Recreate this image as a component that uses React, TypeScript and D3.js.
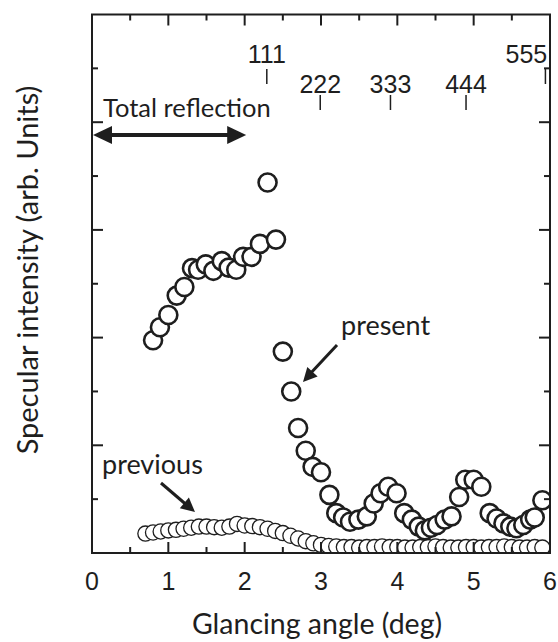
import React from "react";
import * as d3 from "d3";

// present measurement (large open circles)
const presentAngle = [
  0.8, 0.89, 1.0, 1.11, 1.21, 1.31, 1.39, 1.49, 1.59, 1.7, 1.79, 1.89, 1.98, 2.09, 2.2, 2.3, 2.41,
  2.5, 2.61, 2.7, 2.8, 2.89, 3.0, 3.11, 3.2, 3.29, 3.38, 3.49, 3.6, 3.69, 3.78, 3.88, 3.99,
  4.09, 4.19, 4.28, 4.36, 4.44, 4.52, 4.62, 4.71, 4.81, 4.89, 5.0, 5.1, 5.21, 5.3, 5.39, 5.48,
  5.56, 5.65, 5.74, 5.8, 5.9,
];
const presentIntensity = [
  1.975, 2.096, 2.21, 2.39, 2.47, 2.645, 2.63, 2.68, 2.62, 2.71, 2.65, 2.63, 2.75, 2.75, 2.87, 3.44, 2.91,
  1.87, 1.5, 1.16, 0.95, 0.8, 0.75, 0.54, 0.37, 0.33, 0.29, 0.31, 0.34, 0.46, 0.555, 0.615, 0.555,
  0.37, 0.31, 0.245, 0.21, 0.235, 0.26, 0.31, 0.34, 0.52, 0.68, 0.68, 0.615, 0.37, 0.32, 0.275, 0.245,
  0.23, 0.26, 0.31, 0.33, 0.49,
];

// previous measurement (small open circles)
const previousAngle = [
  0.7, 0.8, 0.9, 1.0, 1.1, 1.2, 1.3, 1.4, 1.5, 1.6, 1.7, 1.8, 1.9, 2.0, 2.1, 2.2, 2.3, 2.4,
  2.5, 2.6, 2.7, 2.8, 2.9, 3.0, 3.1, 3.2, 3.3, 3.4, 3.5, 3.6, 3.7, 3.8, 3.9, 4.0, 4.1, 4.2,
  4.3, 4.4, 4.5, 4.6, 4.7, 4.8, 4.9, 5.0, 5.1, 5.2, 5.3, 5.4, 5.5, 5.6, 5.7, 5.8, 5.9,
];
const previousIntensity = [
  0.18, 0.19, 0.2, 0.21, 0.215, 0.225, 0.235, 0.245, 0.245, 0.24, 0.235, 0.245, 0.27, 0.255, 0.25, 0.24, 0.225, 0.205,
  0.185, 0.16, 0.135, 0.11, 0.09, 0.075, 0.065, 0.06, 0.055, 0.055, 0.05, 0.055, 0.055, 0.06, 0.055, 0.055, 0.05, 0.05,
  0.055, 0.055, 0.06, 0.055, 0.05, 0.05, 0.055, 0.055, 0.05, 0.055, 0.055, 0.06, 0.055, 0.05, 0.05, 0.055, 0.05,
];

const xTickValues = [0, 1, 2, 3, 4, 5, 6];
const reflectionLabels = ["111", "222", "333", "444", "555"];
const reflectionAngles = [2.29, 2.99, 3.91, 4.9, 5.94];
const reflectionRow = [0, 1, 1, 1, 0];
const totalReflectionEnd = 2.02;

const W = 558;
const H = 642;
const left = 92;
const right = 550;
const top = 14.5;
const bottom = 553;

const ink = "#1e1e1e";
const digitFont = "'Liberation Sans', Arial, sans-serif";
const textFont = "Lato, 'Open Sans', sans-serif";

function arrowHead(x1: number, y1: number, x2: number, y2: number, len: number, half: number) {
  const a = Math.atan2(y2 - y1, x2 - x1);
  const bx = x2 - len * Math.cos(a);
  const by = y2 - len * Math.sin(a);
  const px = -Math.sin(a) * half;
  const py = Math.cos(a) * half;
  return `${x2},${y2} ${bx + px},${by + py} ${bx - px},${by - py}`;
}

export default function App() {
  const x = d3.scaleLinear().domain([0, 6]).range([left, right]);
  const y = d3.scaleLinear().domain([0, 5]).range([bottom, top]);

  const xMajor = xTickValues;
  const xMinor = d3.range(0.5, 6, 1);
  const yMajor = d3.range(1, 5, 1);
  const yMinor = d3.range(0.5, 5, 1);

  const arrowY = 135;
  const ax0 = x(0) + 1;
  const ax1 = x(totalReflectionEnd);

  return (
    <svg width={W} height={H} style={{ position: "absolute", left: 0, top: 0, background: "#fff" }}>
      <defs>
        <clipPath id="plotClip">
          <rect x={left} y={top} width={right - left} height={bottom - top} />
        </clipPath>
      </defs>

      {/* data */}
      <g clipPath="url(#plotClip)">
        {previousAngle.map((a, i) => (
          <circle key={"p" + i} cx={x(a)} cy={y(previousIntensity[i])} r={7.6} fill="#fff" stroke={ink} strokeWidth={1.3} />
        ))}
        {presentAngle.map((a, i) => (
          <circle key={"c" + i} cx={x(a)} cy={y(presentIntensity[i])} r={9} fill="#fff" stroke={ink} strokeWidth={2.6} />
        ))}
      </g>

      {/* frame + inward ticks */}
      <rect x={left} y={top} width={right - left} height={bottom - top} fill="none" stroke={ink} strokeWidth={2} />
      {xMajor.slice(1, -1).map((t) => (
        <g key={"xm" + t}>
          <line x1={x(t)} x2={x(t)} y1={bottom} y2={bottom - 11} stroke={ink} strokeWidth={2} />
          <line x1={x(t)} x2={x(t)} y1={top} y2={top + 11} stroke={ink} strokeWidth={2} />
        </g>
      ))}
      {xMinor.map((t) => (
        <g key={"xn" + t}>
          <line x1={x(t)} x2={x(t)} y1={bottom} y2={bottom - 6} stroke={ink} strokeWidth={2} />
          <line x1={x(t)} x2={x(t)} y1={top} y2={top + 6} stroke={ink} strokeWidth={2} />
        </g>
      ))}
      {yMajor.map((t) => (
        <g key={"ym" + t}>
          <line x1={left} x2={left + 11} y1={y(t)} y2={y(t)} stroke={ink} strokeWidth={2} />
          <line x1={right} x2={right - 11} y1={y(t)} y2={y(t)} stroke={ink} strokeWidth={2} />
        </g>
      ))}
      {yMinor.map((t) => (
        <g key={"yn" + t}>
          <line x1={left} x2={left + 6} y1={y(t)} y2={y(t)} stroke={ink} strokeWidth={2} />
          <line x1={right} x2={right - 6} y1={y(t)} y2={y(t)} stroke={ink} strokeWidth={2} />
        </g>
      ))}

      {/* x tick labels */}
      {xTickValues.map((t) => (
        <text key={"xl" + t} x={x(t)} y={590} textAnchor="middle" fontFamily={digitFont} fontSize={25} fill={ink}>
          {t}
        </text>
      ))}

      {/* axis titles */}
      <text x={317} y={634} textAnchor="middle" fontFamily={textFont} fontSize={28.5} fill={ink}>
        Glancing angle (deg)
      </text>
      <text
        transform={`translate(38, ${270}) rotate(-90)`}
        textAnchor="middle"
        fontFamily={textFont}
        fontSize={29}
        fill={ink}
      >
        Specular intensity (arb. Units)
      </text>

      {/* reflection markers */}
      {reflectionLabels.map((lab, i) => {
        const cx = x(reflectionAngles[i]);
        const row = reflectionRow[i];
        const tickTop = row === 0 ? 69 : 95;
        const baseline = row === 0 ? 63 : 92.5;
        const lx = i === 4 ? cx - 19 : cx;
        return (
          <g key={lab}>
            <line x1={cx} x2={cx} y1={tickTop} y2={tickTop + 15} stroke={ink} strokeWidth={1.5} />
            <text x={lx} y={baseline} textAnchor="middle" fontFamily={digitFont} fontSize={25} fill={ink}>
              {lab}
            </text>
          </g>
        );
      })}

      {/* total reflection arrow */}
      <text x={103} y={117} fontFamily={textFont} fontSize={25.5} fill={ink}>
        Total reflection
      </text>
      <line x1={ax0 + 12} x2={ax1 - 12} y1={arrowY} y2={arrowY} stroke={ink} strokeWidth={4} />
      <polygon points={arrowHead(ax1, arrowY, ax0, arrowY, 19, 9)} fill={ink} />
      <polygon points={arrowHead(ax0, arrowY, ax1, arrowY, 19, 9)} fill={ink} />

      {/* present label */}
      <text x={341} y={335} fontFamily={textFont} fontSize={27} fill={ink}>
        present
      </text>
      <line x1={337} y1={345} x2={309} y2={375} stroke={ink} strokeWidth={3} />
      <polygon points={arrowHead(337, 345, 303, 382, 14, 7)} fill={ink} />

      {/* previous label */}
      <text x={102} y={474} fontFamily={textFont} fontSize={27} fill={ink}>
        previous
      </text>
      <line x1={161} y1={483} x2={189} y2={507} stroke={ink} strokeWidth={3} />
      <polygon points={arrowHead(161, 483, 195, 512, 14, 7)} fill={ink} />
    </svg>
  );
}
